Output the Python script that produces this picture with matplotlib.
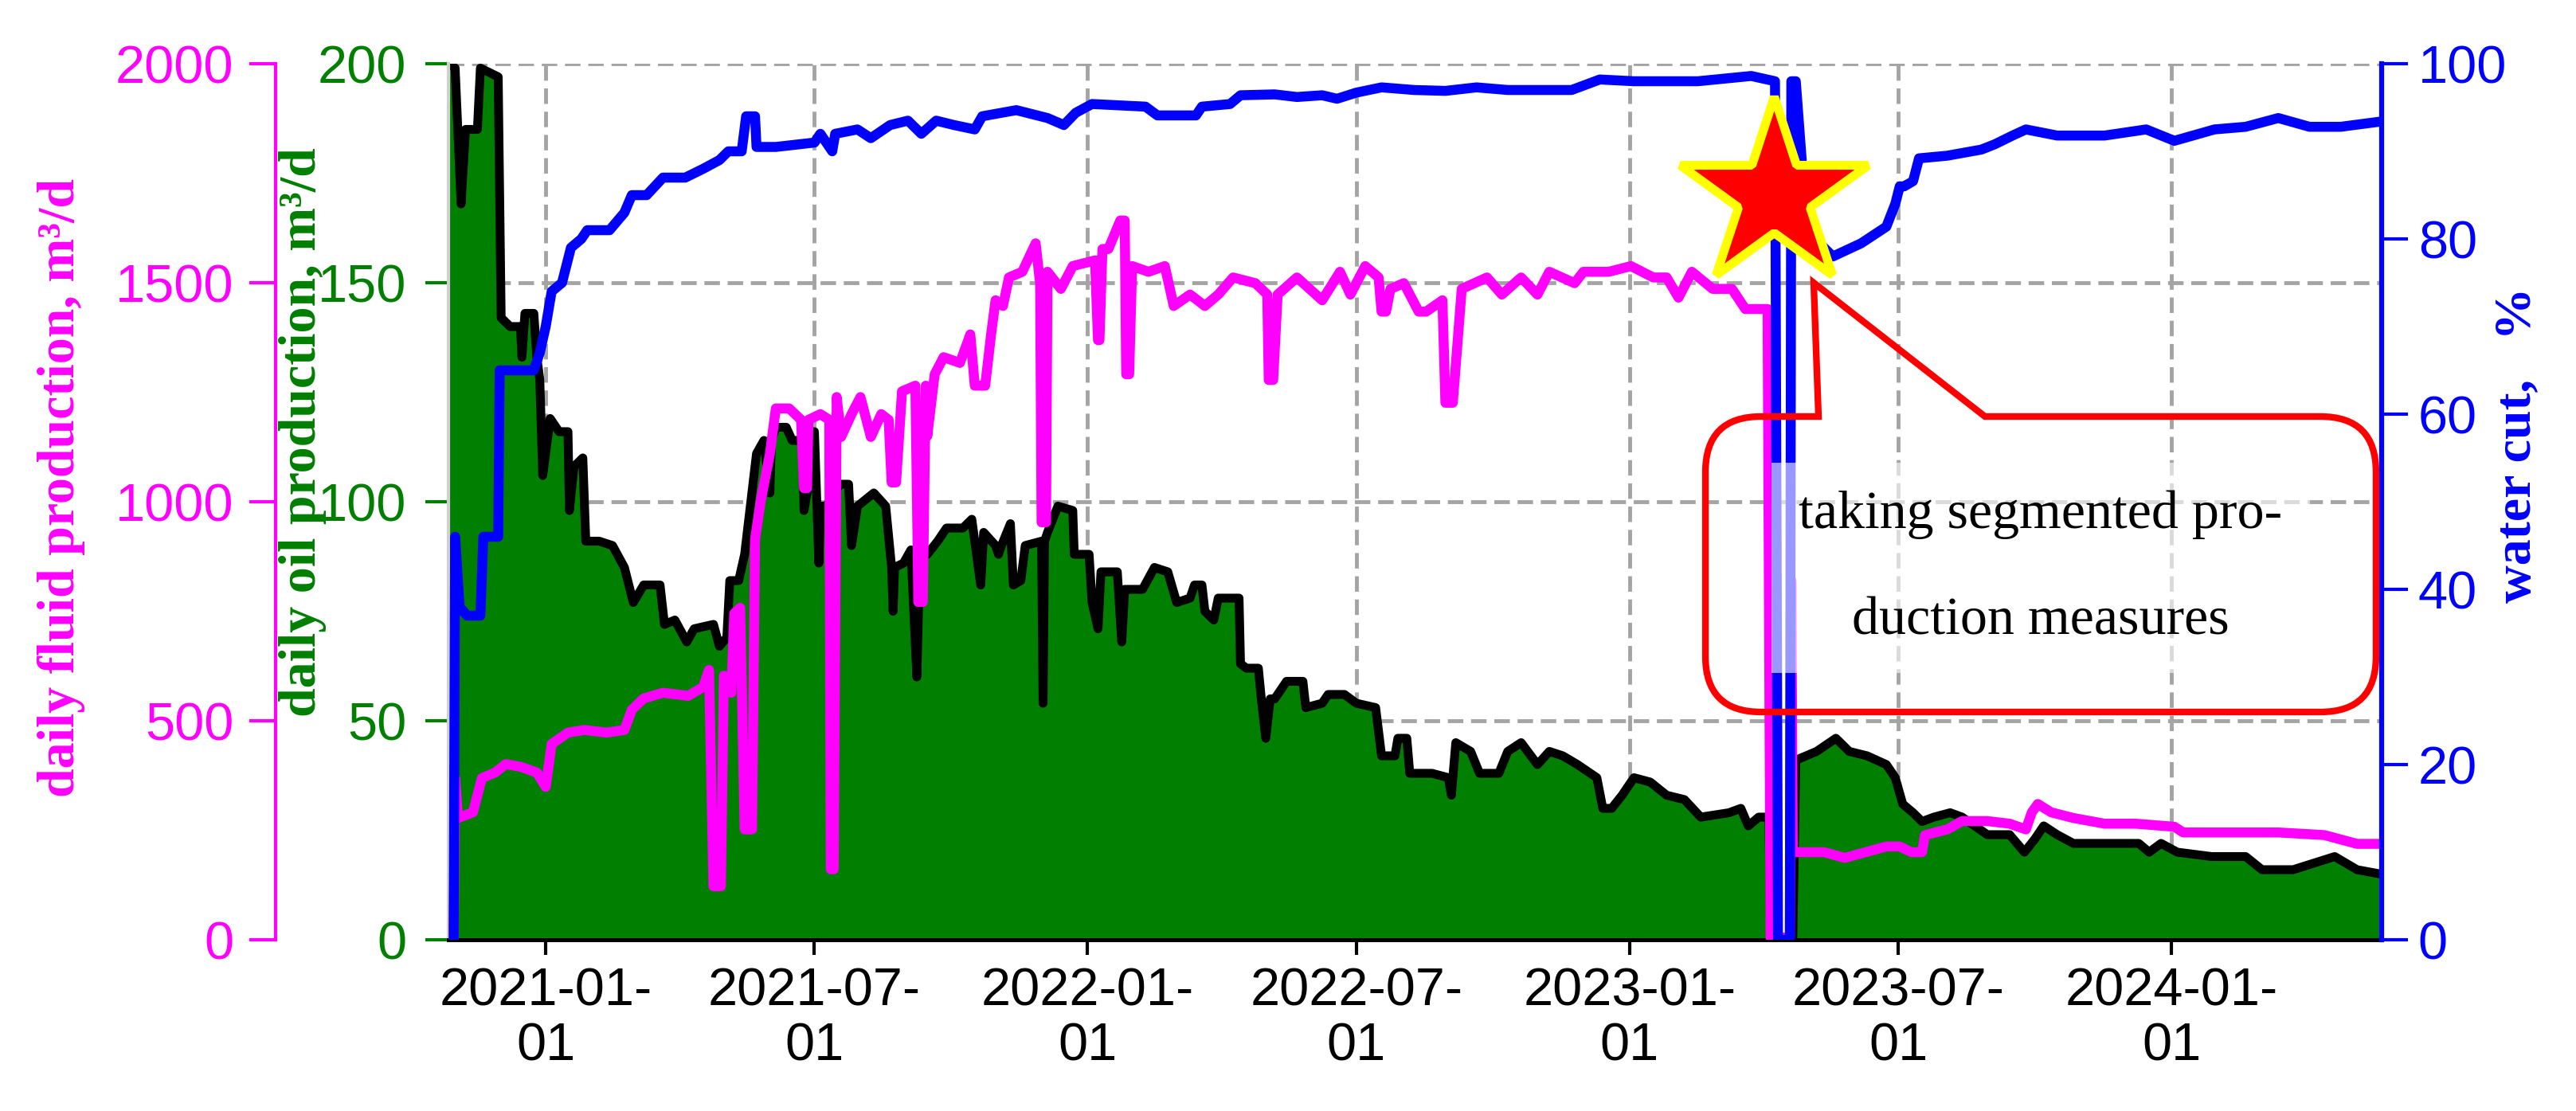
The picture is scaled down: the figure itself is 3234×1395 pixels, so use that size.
"""
Production curve of one well: daily oil (green area), daily fluid (magenta),
water cut (blue), with the segmented-production measure marked.
"""
import numpy as np
import pandas as pd
import matplotlib
matplotlib.use('Agg')
import matplotlib.pyplot as plt
import matplotlib.dates as mdates
from matplotlib import font_manager
from matplotlib.path import Path
from matplotlib.patches import PathPatch

# narrow sans for the tick numbers if it is there, else plain Liberation Sans
installed = {f.name for f in font_manager.fontManager.ttflist}
if 'Liberation Sans Narrow' in installed:
    TICK_FAMILY, TICK_SIZE = 'Liberation Sans Narrow', 57
else:
    TICK_FAMILY, TICK_SIZE = 'Liberation Sans', 48
plt.rcParams['font.family'] = [TICK_FAMILY, 'DejaVu Sans']

# ------------------------------------------------------------------
# data (days counted from 2021-01-01)
# ------------------------------------------------------------------
BASE = pd.Timestamp('2021-01-01')

oil_days = [-65, -61, -57, -54, -46, -44, -38, -32, -30, -24, -17, -16, -14, -8, -6, -4, -2, 3, 9,
            15, 16, 19, 25, 27, 36, 45, 53, 59, 66, 77, 80, 87, 95, 100, 113, 117, 122, 124, 130,
            134, 142, 147, 151, 152, 155, 162, 166, 173, 174, 176, 181, 184, 185, 189, 198, 204,
            206, 210, 221, 229, 233, 234, 235, 241, 246, 250, 252, 257, 264, 270, 281, 287, 293,
            295, 303, 305, 307, 313, 315, 320, 323, 334, 335, 336, 338, 345, 355, 356, 366, 368,
            372, 374, 385, 388, 390, 402, 410, 419, 425, 434, 437, 442, 444, 450, 453, 467, 468,
            472, 480, 482, 485, 488, 491, 499, 510, 512, 523, 527, 538, 546, 559, 563, 572, 574,
            580, 582, 597, 608, 610, 613, 623, 629, 642, 648, 657, 668, 676, 685, 695, 708, 712,
            718, 725, 733, 744, 755, 767, 778, 797, 805, 810, 817, 824, 825, 840, 842, 856, 869,
            878, 890, 903, 909, 914, 921, 927, 935, 946, 954, 971, 986, 996, 1003, 1009, 1018,
            1029, 1050, 1073, 1080, 1088, 1099, 1122, 1145, 1156, 1177, 1205, 1220, 1236]
oil_rate = [200, 199, 168, 185, 185, 199, 198, 197, 142, 140, 140, 133, 143, 143, 133, 128, 106, 119,
            116, 116, 98, 108, 110, 91, 91, 90, 85, 77, 81, 81, 72, 73, 68, 71, 72, 67, 69, 82, 82,
            88, 111, 114, 102, 114, 117, 117, 114, 114, 98, 102, 116, 86, 99, 99, 104, 104, 90, 99,
            102, 99, 85, 75, 85, 86, 89, 60, 88, 88, 91, 94, 94, 96, 81, 93, 90, 88, 90, 95, 81, 82,
            90, 91, 54, 91, 93, 99, 98, 88, 88, 77, 71, 84, 84, 68, 80, 80, 85, 84, 77, 78, 81, 81,
            75, 73, 78, 78, 63, 62, 62, 55, 46, 55, 55, 59, 59, 53, 54, 56, 56, 54, 53, 42, 42, 46,
            46, 38, 38, 37, 33, 45, 43, 38, 38, 43, 45, 40, 43, 42, 40, 37, 30, 30, 33, 37, 36, 33,
            32, 28, 29, 30, 26, 28, 28, 0, 0, 41, 43, 46, 43, 42, 40, 37, 31, 29, 27, 28, 29, 28,
            24, 24, 20, 23, 26, 24, 22, 22, 22, 20, 22, 20, 19, 19, 16, 16, 19, 16, 15]

fluid_days = [-62, -61, -59, -49, -43, -34, -27, -17, -6, 0, 4, 15, 26, 41, 53, 58, 66, 79, 96, 106,
              110, 113, 118, 120, 125, 127, 131, 134, 139, 141, 145, 151, 155, 164, 172, 174, 176,
              177, 185, 191, 192, 194, 196, 199, 206, 212, 219, 226, 231, 233, 236, 240, 249, 251,
              254, 256, 257, 262, 268, 279, 286, 289, 296, 300, 303, 308, 312, 321, 330, 333, 334,
              337, 338, 347, 355, 370, 372, 373, 375, 379, 387, 390, 391, 393, 395, 406, 417, 423,
              434, 444, 453, 463, 478, 486, 487, 490, 493, 506, 523, 535, 542, 552, 561, 563, 566,
              569, 578, 588, 593, 604, 606, 611, 617, 634, 644, 657, 668, 676, 693, 699, 716, 731,
              746, 755, 763, 772, 786, 799, 808, 823, 825, 838, 839, 840, 861, 875, 903, 912, 920,
              927, 929, 944, 954, 971, 986, 997, 1001, 1005, 1014, 1029, 1050, 1071, 1097, 1103,
              1135, 1167, 1198, 1220, 1236]
fluid_rate = [0, 369, 278, 291, 369, 382, 401, 395, 382, 349, 447, 473, 479, 473, 479, 525, 551, 564,
              557, 577, 616, 122, 122, 603, 564, 745, 758, 252, 252, 914, 1005, 1109, 1213, 1213,
              1187, 1031, 1031, 1187, 1200, 1187, 161, 161, 1239, 1148, 1200, 1239, 1148, 1200, 1187,
              1044, 1044, 1252, 1265, 771, 771, 1265, 1150, 1291, 1330, 1317, 1382, 1265, 1265, 1382,
              1460, 1447, 1512, 1525, 1590, 1499, 953, 953, 1525, 1486, 1538, 1551, 1369, 1369, 1577,
              1577, 1642, 1642, 1291, 1291, 1538, 1525, 1538, 1447, 1473, 1447, 1473, 1512, 1499,
              1473, 1278, 1278, 1473, 1512, 1460, 1525, 1473, 1538, 1512, 1434, 1434, 1486, 1499,
              1434, 1434, 1460, 1226, 1226, 1486, 1512, 1473, 1512, 1473, 1525, 1499, 1525, 1525,
              1538, 1512, 1512, 1466, 1525, 1486, 1486, 1440, 1440, 5, 5, 820, 200, 200, 187, 213,
              213, 200, 200, 239, 252, 271, 271, 265, 252, 291, 310, 291, 278, 265, 265, 258, 245,
              245, 245, 239, 219, 219]

wc_days = [-62, -61, -58, -53, -44, -42, -32, -31, -21, -8, -4, 0, 4, 11, 17, 24, 28, 43, 53, 58, 68,
           79, 94, 106, 117, 123, 132, 135, 141, 142, 155, 181, 185, 193, 195, 210, 219, 232, 244,
           253, 263, 275, 289, 294, 317, 338, 349, 357, 368, 404, 412, 438, 442, 461, 468, 491, 506,
           523, 533, 546, 563, 585, 606, 627, 648, 691, 710, 733, 776, 812, 828, 830, 838, 839, 842,
           850, 858, 867, 886, 903, 909, 912, 915, 921, 925, 944, 967, 976, 988, 997, 1018, 1050,
           1078, 1097, 1124, 1145, 1167, 1188, 1209, 1236]
water_cut = [0, 46, 38, 37, 37, 46, 46, 65, 65, 65, 67, 70, 74, 75, 79, 80, 81, 81, 83, 85, 85, 87,
             87, 88, 89, 90, 90, 94, 94, 90.5, 90.5, 91, 92, 90, 92, 92.5, 91.5, 93, 93.5, 92, 93.5,
             93, 92.5, 94, 94.7, 93.8, 93, 94.4, 95.4, 95.1, 94.1, 94.1, 95.1, 95.4, 96.4, 96.5, 96.2,
             96.4, 96, 96.7, 97.3, 97, 96.9, 97.3, 97, 97, 98.2, 98, 98, 98.6, 98, 0, 0, 98, 98, 80,
             79.5, 78, 79.5, 81.4, 84, 86, 86, 86.6, 89.2, 89.5, 90.2, 90.8, 91.8, 92.5, 91.8, 91.8,
             92.5, 91.2, 92.5, 92.8, 93.8, 92.8, 92.8, 93.4]

STAR_DAY, STAR_WC = 827, 85
NOTE = 'taking segmented pro-\nduction measures'


def to_dates(days):
    return BASE + pd.to_timedelta(np.asarray(days, dtype=float), unit='D')


GREEN = '#007f00'
MAGENTA = '#ff00ff'
BLUE = '#0000ff'
LABEL_FONT = dict(family='Liberation Serif', fontweight='bold', fontsize=47.5)

fig = plt.figure(figsize=(32.34, 13.95), dpi=100)
ax = fig.add_axes([0.17409, 0.15412, 0.75046, 0.78853])
ax_f = ax.twinx()
ax_w = ax.twinx()

# ---- oil: green area with black outline
d_oil = to_dates(oil_days)
ax.fill_between(d_oil, oil_rate, 0, color=GREEN, lw=0)
ax.plot(d_oil, oil_rate, color='black', lw=8)

# ---- fluid and water cut
ax_f.plot(to_dates(fluid_days), fluid_rate, color=MAGENTA, lw=9)
ax_w.plot(to_dates(wc_days), water_cut, color=BLUE, lw=9)

# ---- axes ranges / ticks
ax.set_xlim(BASE + pd.Timedelta(days=-65.5), BASE + pd.Timedelta(days=1236.6))
ax.set_ylim(0, 200)
ax.set_yticks(np.arange(0, 201, 50))
ax_f.set_ylim(0, 2000)
ax_f.set_yticks(np.arange(0, 2001, 500))
ax_w.set_ylim(0, 100)
ax_w.set_yticks(np.arange(0, 101, 20))

ax.xaxis.set_major_locator(mdates.MonthLocator(bymonth=[1, 7]))
ax.xaxis.set_major_formatter(mdates.DateFormatter('%Y-%m-\n%d'))

ax.set_axisbelow(True)
ax.grid(True, color='#a4a4a4', linestyle=(0, (4, 2)), lw=3.5)

# main (oil) axis
ax.tick_params(axis='x', length=14, width=3, pad=11, labelsize=TICK_SIZE, colors='black')
ax.tick_params(axis='y', length=21, width=3, pad=17, labelsize=TICK_SIZE, colors=GREEN)
for s in ('top', 'right'):
    ax.spines[s].set_visible(False)
ax.spines['bottom'].set_linewidth(3.6)
ax.spines['left'].set_color('#d0d0d0')
ax.spines['left'].set_linewidth(3)

# fluid axis, shifted further left
ax_f.spines['left'].set_position(('axes', -0.0894))
ax_f.spines['left'].set_visible(True)
ax_f.spines['left'].set_color(MAGENTA)
ax_f.spines['left'].set_linewidth(3)
for s in ('top', 'right', 'bottom'):
    ax_f.spines[s].set_visible(False)
ax_f.yaxis.set_ticks_position('left')
ax_f.yaxis.set_label_position('left')
ax_f.tick_params(axis='y', length=24, width=3, pad=14, labelsize=TICK_SIZE, colors=MAGENTA)

# water cut axis
for s in ('top', 'left', 'bottom'):
    ax_w.spines[s].set_visible(False)
ax_w.spines['right'].set_color(BLUE)
ax_w.spines['right'].set_linewidth(4.5)
ax_w.tick_params(axis='y', length=24, width=3, pad=9, labelsize=TICK_SIZE, colors=BLUE)

for lbl in ax.get_xticklabels():
    lbl.set_linespacing(1.15)

# ---- axis titles
ax_f.set_ylabel('daily fluid production, m³/d', color=MAGENTA, **LABEL_FONT)
ax_f.yaxis.set_label_coords(-0.1879, 0.516)
ax.set_ylabel('daily oil production, m³/d', color=GREEN, **LABEL_FONT)
ax.yaxis.set_label_coords(-0.0632, 0.579)
ax_w.set_ylabel('water cut,   %', color=BLUE, rotation=90, **LABEL_FONT)
ax_w.yaxis.set_label_coords(1.0577, 0.565)

# ---- marker for the measure + callout
ax_w.plot(to_dates([STAR_DAY]), [STAR_WC], marker='*', ms=178, mfc='red', mec='yellow',
          mew=8, zorder=20, clip_on=False)

L, R, T, B = 0.6502, 0.9971, 0.5973, 0.26
rx, ry = 0.0288, 0.0636
tip = (0.7062, 0.75)
bl, br = 0.7087, 0.7948
verts = [(bl, T), tip, (br, T), (R - rx, T), (R, T), (R, T - ry), (R, B + ry), (R, B), (R - rx, B),
         (L + rx, B), (L, B), (L, B + ry), (L, T - ry), (L, T), (L + rx, T), (bl, T), (bl, T)]
codes = [Path.MOVETO, Path.LINETO, Path.LINETO, Path.LINETO, Path.CURVE3, Path.CURVE3,
         Path.LINETO, Path.CURVE3, Path.CURVE3, Path.LINETO, Path.CURVE3, Path.CURVE3,
         Path.LINETO, Path.CURVE3, Path.CURVE3, Path.LINETO, Path.CLOSEPOLY]
ax_w.add_patch(PathPatch(Path(verts, codes), transform=ax_w.transAxes, fc='none',
                         ec='red', lw=6, zorder=15, clip_on=False))
ax_w.text(0.8237, 0.4245, NOTE, transform=ax_w.transAxes, ha='center', va='center',
          fontsize=49, family='Liberation Serif', linespacing=2.55, zorder=16,
          bbox=dict(fc='white', ec='none', alpha=0.6, pad=25))

plt.savefig('out.png', dpi=100)
plt.close()
print('saved out.png')
